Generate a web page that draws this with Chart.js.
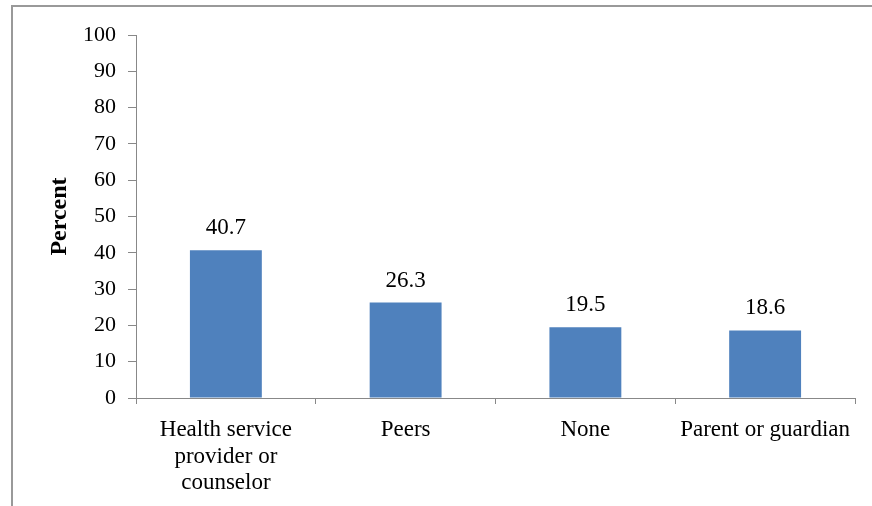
<!DOCTYPE html>
<html>
<head>
<meta charset="utf-8">
<script src="https://cdn.jsdelivr.net/npm/chart.js@4"></script>
<style>
  html, body { margin: 0; padding: 0; background: #fff; }
  #wrap { position: relative; width: 872px; height: 506px; overflow: hidden; }
  #frame { position: absolute; left: 11px; top: 5px; width: 900px; height: 600px;
           border-left: 2px solid #999; border-top: 2px solid #999; }
  canvas { position: absolute; left: 0; top: 0; }
</style>
</head>
<body>
<div id="wrap">
  <div id="frame"></div>
  <canvas id="myChart" width="872" height="506"></canvas>
</div>
<script>
// categories and values
var categories = [
  ["Health service", "provider or", "counselor"],
  "Peers",
  "None",
  "Parent or guardian"
];
var percents = [40.7, 26.3, 19.5, 18.6];
var yTicks = [0, 10, 20, 30, 40, 50, 60, 70, 80, 90, 100];

var serif = "'Liberation Serif', 'Times New Roman', serif";

// value labels above each bar
var barLabels = {
  id: 'barLabels',
  afterDatasetsDraw: function(chart) {
    var ctx = chart.ctx;
    var meta = chart.getDatasetMeta(0);
    ctx.save();
    ctx.font = "23px " + serif;
    ctx.fillStyle = "#000";
    ctx.textAlign = "center";
    ctx.textBaseline = "alphabetic";
    meta.data.forEach(function(bar, i) {
      ctx.fillText(percents[i].toFixed(1), bar.x, bar.y - 16);
    });
    ctx.restore();
  }
};

const ctx = document.getElementById('myChart').getContext("2d");

var chart = new Chart(ctx, {
  type: "bar",
  data: {
    labels: categories,
    datasets: [{
      data: percents,
      backgroundColor: "#4F81BD",
      borderWidth: 0,
      barPercentage: 0.4,
      categoryPercentage: 1.0
    }]
  },
  options: {
    responsive: false,
    animation: false,
    layout: { padding: { top: 35, right: 17, left: 45, bottom: 0 } },
    plugins: { legend: { display: false }, tooltip: { enabled: false } },
    scales: {
      x: {
        grid: { display: true, drawOnChartArea: false, color: "#888", tickLength: 6, offset: true },
        border: { color: "#888", width: 1 },
        ticks: {
          color: "#000",
          font: { family: serif, size: 23, lineHeight: 1.15 },
          maxRotation: 0, minRotation: 0, autoSkip: false, padding: 13
        },
        afterFit: function(scale) { scale.height = 108; }
      },
      y: {
        min: 0, max: 100,
        afterBuildTicks: function(scale) {
          scale.ticks = yTicks.map(function(v) { return { value: v }; });
        },
        grid: { display: true, drawOnChartArea: false, color: "#888", tickLength: 8 },
        border: { color: "#888", width: 1 },
        ticks: {
          color: "#000",
          font: { family: serif, size: 22 },
          padding: 12
        },
        title: {
          display: true,
          text: "Percent",
          color: "#000",
          font: { family: serif, size: 24, weight: "bold" },
          padding: { top: 0, bottom: 0 }
        },
        afterFit: function(scale) { scale.width = 91; }
      }
    }
  },
  plugins: [barLabels]
});
</script>
</body>
</html>
